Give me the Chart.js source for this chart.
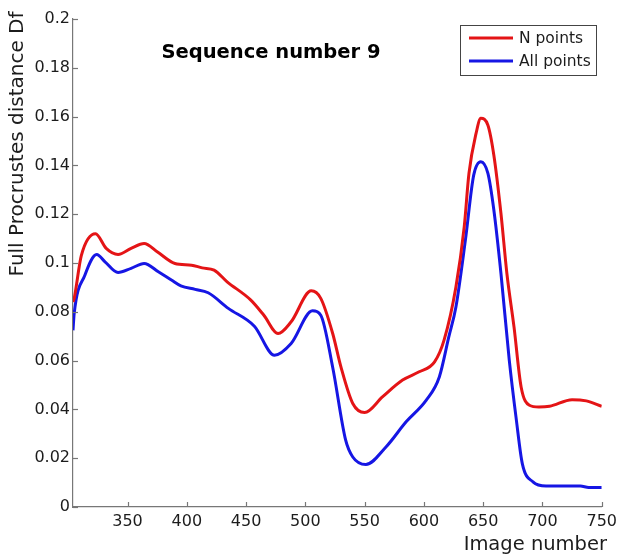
<!DOCTYPE html>
<html><head><meta charset="utf-8">
<script src="https://cdn.jsdelivr.net/npm/chart.js@4/dist/chart.umd.min.js"></script>
<style>html,body{margin:0;padding:0;background:#fff}#wrap{width:622px;height:557px}</style>
</head><body><div id="wrap"><canvas id="c" width="622" height="557"></canvas></div>
<script>
const chartTitle = 'Sequence number 9';
const seriesLabels = ['N points', 'All points'];
const xAxisTitle = 'Image number';
const yAxisTitle = 'Full Procrustes distance Df';
const xTicks = [350, 400, 450, 500, 550, 600, 650, 700, 750];
const yTicks = [0, 0.02, 0.04, 0.06, 0.08, 0.1, 0.12, 0.14, 0.16, 0.18, 0.2];

const nPointsFrames = [304,305,311,323,332,342,353,364,375,390,404,413,423,434,454,465,477,488,505,513,523,530,540,550,565,582,596,609,617,627,634,638,644,648,654,659,665,670,676,682,689,697,706,725,737,750];
const nPointsValues = [0.084,0.0855,0.103,0.112,0.106,0.1035,0.106,0.108,0.1046,0.0998,0.0991,0.098,0.0971,0.0923,0.0848,0.0786,0.0711,0.0759,0.0886,0.0855,0.0712,0.0574,0.0424,0.0387,0.0451,0.052,0.0554,0.0595,0.0684,0.0902,0.1148,0.1367,0.1531,0.1593,0.1565,0.1442,0.1203,0.0957,0.0738,0.0492,0.0417,0.041,0.0413,0.044,0.0435,0.0413];

const allPointsFrames = [304,305,314,324,331,342,353,364,376,387,395,407,418,435,457,474,488,506,513,523,534,540,551,568,585,602,613,621,627,635,642,648,654,659,665,672,678,683,692,703,732,739,750];
const allPointsValues = [0.0724,0.0793,0.095,0.1035,0.1005,0.0961,0.0978,0.0998,0.0964,0.093,0.0906,0.0892,0.0878,0.0814,0.0741,0.0622,0.067,0.0804,0.0786,0.0574,0.0274,0.0205,0.0174,0.0246,0.0349,0.0438,0.0533,0.0697,0.082,0.1094,0.136,0.1415,0.1367,0.1217,0.0957,0.0602,0.0356,0.0178,0.0103,0.0086,0.0086,0.008,0.008];

const seriesColors = ['rgb(228,20,22)', 'rgb(22,22,228)'];
const FONT = "'DejaVu Sans', sans-serif";
const TEXT = '#1c1c1c';

const toXY = (xs, ys) => xs.map((x, i) => ({x, y: ys[i]}));

const decorations = {
  id: 'decorations',
  afterDraw(chart) {
    const ctx = chart.ctx, xs = chart.scales.x, ys = chart.scales.y;
    const area = chart.chartArea;
    ctx.save();
    ctx.strokeStyle = '#777';
    ctx.lineWidth = 1.2;
    xTicks.forEach(v => {
      const px = Math.round(xs.getPixelForValue(v)) + 0.5;
      ctx.beginPath(); ctx.moveTo(px, area.bottom); ctx.lineTo(px, area.bottom - 5); ctx.stroke();
    });
    yTicks.forEach(v => {
      const py = Math.round(ys.getPixelForValue(v)) + 0.5;
      ctx.beginPath(); ctx.moveTo(area.left, py); ctx.lineTo(area.left + 5, py); ctx.stroke();
    });
    // chart title
    ctx.fillStyle = '#000';
    ctx.font = 'bold 19.5px ' + FONT;
    ctx.textAlign = 'center';
    ctx.textBaseline = 'middle';
    ctx.fillText(chartTitle, 271, 53);
    // axis titles
    ctx.fillStyle = TEXT;
    ctx.font = '19.5px ' + FONT;
    ctx.textAlign = 'right';
    ctx.fillText(xAxisTitle, 607, 545);
    ctx.save();
    ctx.translate(18, 144);
    ctx.rotate(-Math.PI / 2);
    ctx.textAlign = 'center';
    ctx.font = '20px ' + FONT;
    ctx.fillText(yAxisTitle, 0, 0);
    ctx.restore();
    // legend
    const bx = 460.5, by = 25.5, bw = 136, bh = 50;
    ctx.fillStyle = '#fff';
    ctx.fillRect(bx, by, bw, bh);
    ctx.strokeStyle = '#444';
    ctx.lineWidth = 1;
    ctx.strokeRect(bx, by, bw, bh);
    ctx.font = '15.5px ' + FONT;
    ctx.textAlign = 'left';
    ctx.fillStyle = TEXT;
    const rows = [38, 61];
    chart.data.datasets.forEach((ds, i) => {
      ctx.strokeStyle = ds.borderColor;
      ctx.lineWidth = 3;
      ctx.beginPath(); ctx.moveTo(469, rows[i]); ctx.lineTo(513, rows[i]); ctx.stroke();
      ctx.fillText(ds.label, 519, rows[i] + 1);
    });
    ctx.restore();
  }
};

new Chart(document.getElementById('c'), {
  type: 'line',
  data: {
    datasets: [
      {label: seriesLabels[0], data: toXY(nPointsFrames, nPointsValues), borderColor: seriesColors[0], borderWidth: 3, pointRadius: 0, cubicInterpolationMode: 'monotone', fill: false},
      {label: seriesLabels[1], data: toXY(allPointsFrames, allPointsValues), borderColor: seriesColors[1], borderWidth: 3, pointRadius: 0, cubicInterpolationMode: 'monotone', fill: false}
    ]
  },
  options: {
    responsive: false,
    animation: false,
    events: [],
    layout: {padding: {top: 19, right: 19, left: 0, bottom: 0}},
    plugins: {legend: {display: false}, tooltip: {enabled: false}, title: {display: false}},
    scales: {
      x: {
        type: 'linear', min: 304, max: 750,
        afterBuildTicks: s => { s.ticks = xTicks.map(v => ({value: v})); },
        afterFit: s => { s.height = 50; },
        grid: {display: true, drawOnChartArea: false, drawTicks: false},
        border: {display: true, color: '#777', width: 1.2},
        ticks: {color: TEXT, font: {family: FONT, size: 16}, padding: 5, maxRotation: 0, autoSkip: false},
        title: {display: false}
      },
      y: {
        type: 'linear', min: 0, max: 0.2,
        afterBuildTicks: s => { s.ticks = yTicks.map(v => ({value: v})); },
        afterFit: s => { s.width = 73; },
        grid: {display: true, drawOnChartArea: false, drawTicks: false},
        border: {display: true, color: '#777', width: 1.2},
        ticks: {color: TEXT, font: {family: FONT, size: 16}, padding: 3, autoSkip: false,
          callback: v => String(Number(v.toFixed(2)))},
        title: {display: false}
      }
    }
  },
  plugins: [decorations]
});
</script></body></html>
